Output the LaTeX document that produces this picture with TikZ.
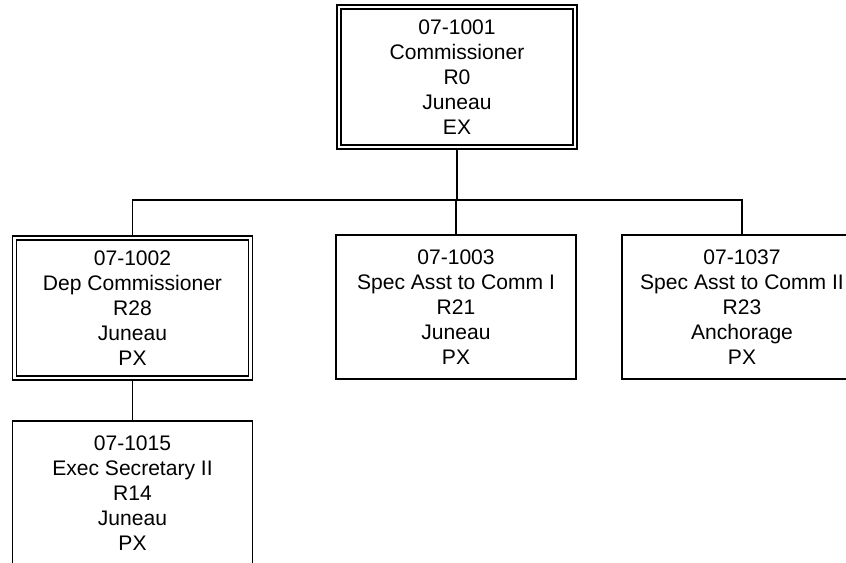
\documentclass[tikz,border=0pt]{standalone}
\usepackage{fontspec}
\setmainfont{Liberation Sans}

\begin{document}
\begin{tikzpicture}[x=0.75pt,y=-0.75pt,
  post/.style={draw,rectangle,line width=1.3pt,minimum width=180pt,minimum height=108pt,
    inner sep=0pt,align=center,font=\fontsize{15.8}{18.75}\selectfont},
  mgr/.style={post,double,double distance=1.7pt,minimum width=177pt,minimum height=105pt,outer sep=2.1pt},
  link/.style={line width=1.3pt}]
\useasboundingbox (0,0) rectangle (846,563);

\node[mgr] (comm) at (457,77) {07-1001\\Commissioner\\R0\\Juneau\\EX};
\node[mgr] (dep) at (132.5,308) {07-1002\\Dep Commissioner\\R28\\Juneau\\PX};
\node[post] (asst1) at (456,307) {07-1003\\Spec Asst to Comm I\\R21\\Juneau\\PX};
\node[post] (asst2) at (742,307) {07-1037\\Spec Asst to Comm II\\R23\\Anchorage\\PX};
\node[post] (sec) at (132.5,493) {07-1015\\Exec Secretary II\\R14\\Juneau\\PX};

\coordinate (bus) at (0,200);
\draw[link] (comm.south) -- (comm.south |- bus) -| (dep.north);
\draw[link] (comm.south) -- (comm.south |- bus) -| (asst1.north);
\draw[link] (comm.south) -- (comm.south |- bus) -| (asst2.north);
\draw[link] (dep.south) -- (sec.north);
\end{tikzpicture}
\end{document}
